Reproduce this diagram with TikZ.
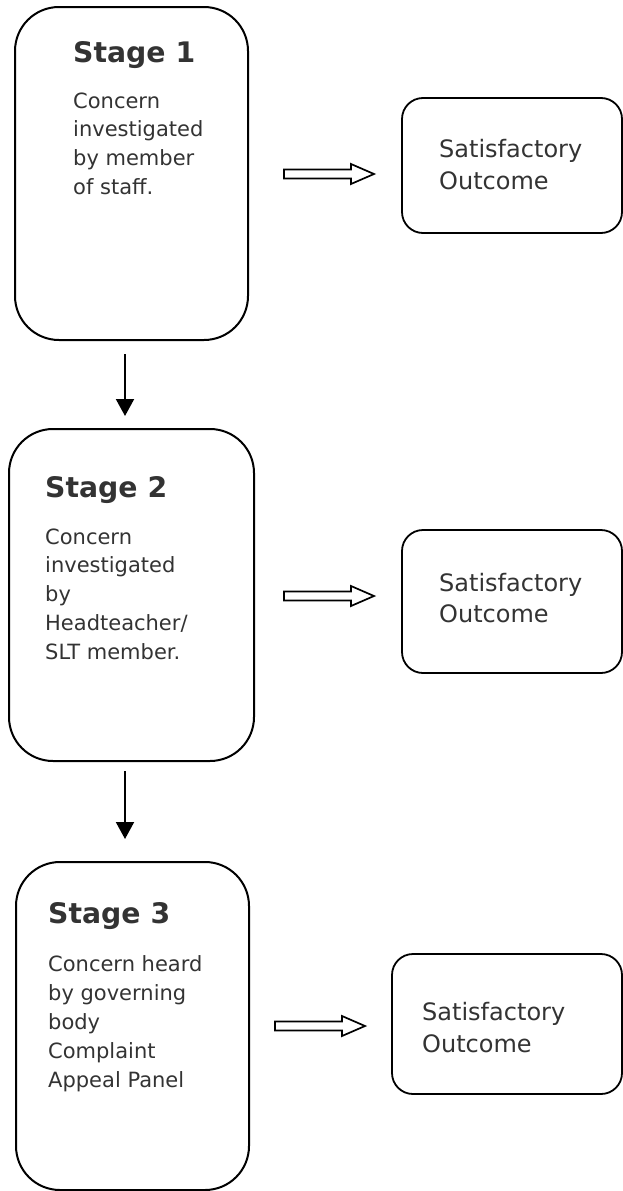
\documentclass[tikz,border=0pt]{standalone}
\usepackage{fontspec}
\setmainfont{DejaVu Sans}
\usetikzlibrary{arrows.meta}
\definecolor{txt}{HTML}{333333}
\begin{document}
\begin{tikzpicture}[x=1pt,y=-1pt,
  stagebox/.style={draw, line width=2pt, rounded corners=44pt, inner sep=0pt},
  outbox/.style={draw, line width=1.8pt, rounded corners=21pt, inner sep=0pt},
  head/.style={anchor=base west, inner sep=0pt, text=txt, font=\bfseries\fontsize{28.3}{34}\selectfont},
  body/.style={anchor=base west, inner sep=0pt, text=txt},
  hollow/.style={draw, line width=1.7pt, fill=white, line join=miter},
  down/.style={line width=2pt, -{Triangle[width=18pt,length=17pt]}}]
\useasboundingbox (0,0) rectangle (623,1191);
% stage boxes
\node[stagebox, minimum width=233pt, minimum height=333pt] (s1) at (131.5,173.5) {};
\node[stagebox, minimum width=245pt, minimum height=332pt] (s2) at (131.5,595) {};
\node[stagebox, minimum width=233pt, minimum height=328pt] (s3) at (132.5,1026) {};
% outcome boxes
\node[outbox, minimum width=220pt, minimum height=135pt] (o1) at (512,165.5) {};
\node[outbox, minimum width=220pt, minimum height=143pt] (o2) at (512,601.5) {};
\node[outbox, minimum width=230pt, minimum height=140pt] (o3) at (507,1024) {};
% stage texts
\node[head] (h1) at (73,62) {Stage 1};
\node[body] (b1) at (73,108) {\parbox[t]{170pt}{\raggedright\fontsize{21}{28.8}\selectfont Concern\\investigated\\by member\\of staff.}};
\node[head] (h2) at (45,497) {Stage 2};
\node[body] (b2) at (45,544) {\parbox[t]{200pt}{\raggedright\fontsize{21}{28.8}\selectfont Concern\\investigated\\by\\Headteacher/\\SLT member.}};
\node[head] (h3) at (48,923) {Stage 3};
\node[body] (b3) at (48,971) {\parbox[t]{200pt}{\raggedright\fontsize{21}{29.2}\selectfont Concern heard\\by governing\\body\\Complaint\\Appeal Panel}};
% outcome texts
\node[body] (t1) at (439,157) {\parbox[t]{180pt}{\raggedright\fontsize{24}{32}\selectfont Satisfactory\\Outcome}};
\node[body] (t2) at (439,591) {\parbox[t]{180pt}{\raggedright\fontsize{24}{31.5}\selectfont Satisfactory\\Outcome}};
\node[body] (t3) at (422,1020) {\parbox[t]{180pt}{\raggedright\fontsize{24}{32}\selectfont Satisfactory\\Outcome}};
% hollow arrows (tail points)
\coordinate (a1) at (284,174);
\coordinate (a2) at (284,596);
\coordinate (a3) at (275,1026);
\foreach \a in {a1,a2,a3}{
  \draw[hollow] (\a) ++(0,-4.5) -- ++(67,0) -- ++(0,-5.5) -- ++(23,10) -- ++(-23,10) -- ++(0,-5.5) -- ++(-67,0) -- cycle;
}
% down arrows
\draw[down] ([xshift=-6.5pt,yshift=-13pt]s1.south) -- ([xshift=-6.5pt,yshift=12pt]s2.north);
\draw[down] ([xshift=-6.5pt,yshift=-9pt]s2.south) -- ([xshift=-7.5pt,yshift=22pt]s3.north);
\end{tikzpicture}
\end{document}
